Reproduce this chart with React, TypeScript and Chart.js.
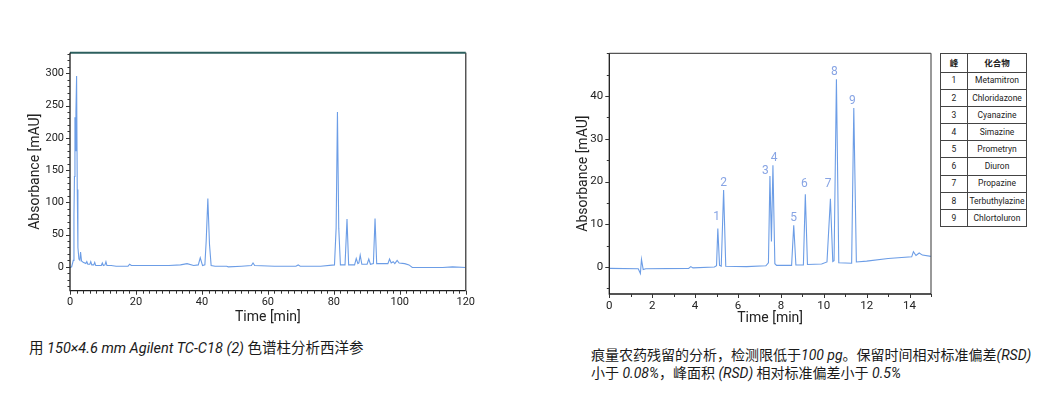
import React, { useEffect, useRef } from "react";
import { Chart, registerables } from "chart.js";

Chart.register(...registerables);

// ---------- Left chromatogram (西洋参) ----------
const leftTime = [
  0, 0.5, 1.0, 1.2, 1.35, 1.5, 1.65, 1.8, 2.0, 2.2,
  2.4, 2.7, 3.0, 3.2, 3.5, 4.0, 4.8, 5.1, 5.4, 6.0,
  6.3, 6.6, 7.2, 7.5, 7.8, 8.6, 9.5, 9.8, 10.1, 10.6,
  10.9, 11.2, 12.5, 14.0, 17.6, 18.1, 18.6, 24, 30, 33.5,
  35.5, 37.5, 38.9, 39.5, 40.2, 40.9, 41.3, 41.8, 42.3, 42.8,
  44, 47.5, 48, 52, 55.0, 55.5, 56.0, 62, 68.5, 69.2,
  69.8, 76, 80.2, 80.7, 81.1, 81.5, 82.0, 83.4, 84.0, 84.5,
  86.3, 86.8, 87.3, 87.6, 88.0, 88.5, 90.1, 90.6, 91.1, 92.0,
  92.5, 93.0, 96.4, 96.9, 97.4, 98.0, 98.5, 99.2, 99.8, 101.5,
  102.8, 103.8, 108, 113, 116, 120,
];
const leftAbs = [
  -1, 0, 10, 80, 140, 232, 180, 240, 296, 120,
  30, 12, 10, 23, 9, 7, 5, 8, 4, 4,
  8, 3, 3, 7, 2, 2, 2, 6, 2, 3,
  8, 2, 2, 1, 1, 4, 2, 2, 2, 3,
  5, 2, 3, 14, 2, 3, 40, 106, 35, 2,
  1, 1, 0, 1, 2, 6, 2, 1, 1, 3,
  1, 1, 3, 60, 240, 60, 3, 3, 74, 3,
  3, 13, 5, 6, 18, 4, 4, 12, 4, 5,
  75, 5, 5, 12, 6, 8, 5, 10, 6, 5,
  3, -1, -1, -1, 0, -1,
];
const leftXLabels = [0, 20, 40, 60, 80, 100, 120];
const leftYLabels = [0, 50, 100, 150, 200, 250, 300];

// ---------- Right chromatogram (pesticides) ----------
const rightTime = [
  0, 1.35, 1.45, 1.5, 1.58, 1.7, 3.7, 3.8, 3.9, 4.9,
  5.0, 5.06, 5.14, 5.22, 5.33, 5.43, 6.4, 7.3, 7.42, 7.49,
  7.56, 7.63, 7.72, 7.8, 8.5, 8.6, 8.7, 9.05, 9.14, 9.24,
  9.9, 10.15, 10.31, 10.42, 10.48, 10.59, 10.7, 11.3, 11.4, 11.52,
  12, 13, 14.1, 14.18, 14.3, 14.45, 14.6, 15,
];
const rightAbs = [
  -0.3, -0.4, -1.5, 1.8, -0.6, -0.4, -0.3, 0.1, -0.2, 0.0,
  0.3, 9.0, 0.4, 0.2, 18.0, 0.2, 0.1, 0.3, 1.0, 21.3,
  6, 23.8, 0.8, 0.4, 0.4, 9.8, 0.5, 0.5, 17.0, 0.6,
  0.7, 1.2, 16.0, 1.3, 1.5, 43.9, 1.0, 0.9, 37.2, 1.2,
  1.4, 2.0, 2.4, 3.6, 2.7, 3.3, 2.8, 2.5,
];
const rightXLabels = [0, 2, 4, 6, 8, 10, 12, 14];
const rightYLabels = [0, 10, 20, 30, 40];

const peakIds = ["1", "2", "3", "4", "5", "6", "7", "8", "9"];
const peakLabelTime = [5.0, 5.33, 7.28, 7.68, 8.6, 9.1, 10.2, 10.5, 11.33];
const peakLabelAbs = [11.7, 19.6, 22.5, 25.4, 11.5, 19.5, 19.5, 45.6, 38.8];

// ---------- Table ----------
const tableHeader = ["峰", "化合物"];
const compoundNos = ["1", "2", "3", "4", "5", "6", "7", "8", "9"];
const compoundNames = [
  "Metamitron",
  "Chloridazone",
  "Cyanazine",
  "Simazine",
  "Prometryn",
  "Diuron",
  "Propazine",
  "Terbuthylazine",
  "Chlortoluron",
];

const NARROW = "Roboto, 'Liberation Sans', sans-serif";
const LINE_COLOR = "#6c9de6";

const near = (arr: number[], v: number) => arr.some((a) => Math.abs(a - v) < 1e-6);

const framePlugin = {
  id: "frame",
  afterDraw(chart: any, _args: any, opts: any) {
    const { ctx, chartArea: a } = chart;
    const xs = chart.scales.x;
    const ys = chart.scales.y;
    ctx.save();
    ctx.strokeStyle = opts.rightColor;
    ctx.lineWidth = opts.rightWidth;
    ctx.beginPath();
    ctx.moveTo(a.right, a.top);
    ctx.lineTo(a.right, a.bottom);
    ctx.stroke();
    ctx.strokeStyle = opts.topColor;
    ctx.lineWidth = opts.topWidth;
    ctx.beginPath();
    ctx.moveTo(a.left, a.top);
    ctx.lineTo(a.right, a.top);
    ctx.stroke();
    ctx.strokeStyle = "#1c1c1c";
    ctx.lineWidth = 1.3;
    ctx.beginPath();
    ctx.moveTo(a.left, a.top);
    ctx.lineTo(a.left, a.bottom);
    ctx.lineTo(a.right, a.bottom);
    ctx.stroke();
    ctx.lineWidth = 1;
    ctx.strokeStyle = "#333";
    ctx.beginPath();
    xs.ticks.forEach((t: any) => {
      const px = Math.round(xs.getPixelForValue(t.value)) + 0.5;
      const len = near(opts.xLabels, t.value) ? 4 : 3;
      ctx.moveTo(px, a.bottom);
      ctx.lineTo(px, a.bottom + len);
    });
    ys.ticks.forEach((t: any) => {
      const py = Math.round(ys.getPixelForValue(t.value)) + 0.5;
      const len = near(opts.yLabels, t.value) ? 4 : 2.5;
      ctx.moveTo(a.left, py);
      ctx.lineTo(a.left - len, py);
    });
    ctx.stroke();
    ctx.restore();
  },
};

const peakLabelPlugin = {
  id: "peakLabels",
  afterDatasetsDraw(chart: any, _args: any, opts: any) {
    if (!opts || !opts.ids) return;
    const { ctx } = chart;
    const xs = chart.scales.x;
    const ys = chart.scales.y;
    ctx.save();
    ctx.fillStyle = opts.color;
    ctx.font = `12px ${NARROW}`;
    ctx.textAlign = "center";
    ctx.textBaseline = "middle";
    opts.ids.forEach((id: string, i: number) => {
      ctx.fillText(id, xs.getPixelForValue(opts.times[i]), ys.getPixelForValue(opts.values[i]));
    });
    ctx.restore();
  },
};

type Cfg = {
  width: number;
  height: number;
  times: number[];
  values: number[];
  xMin: number;
  xMax: number;
  xStep: number;
  xLabels: number[];
  yMin: number;
  yMax: number;
  yStep: number;
  yLabels: number[];
  yAxisWidth: number;
  xAxisHeight: number;
  padding: { top: number; right: number; left: number; bottom: number };
  yTitlePad: number;
  xTitlePad: number;
  tickSize: number;
  titleSize: number;
  topColor: string;
  topWidth: number;
  rightColor: string;
  rightWidth: number;
  peaks?: { ids: string[]; times: number[]; values: number[]; color: string };
};

function Chromatogram({ cfg, style }: { cfg: Cfg; style: React.CSSProperties }) {
  const ref = useRef<HTMLCanvasElement | null>(null);
  useEffect(() => {
    if (!ref.current) return;
    const chart = new Chart(ref.current, {
      type: "line",
      data: {
        datasets: [
          {
            data: cfg.times.map((t, i) => ({ x: t, y: cfg.values[i] })),
            borderColor: LINE_COLOR,
            borderWidth: 1.1,
            pointRadius: 0,
            tension: 0,
            fill: false,
          },
        ],
      },
      options: {
        responsive: false,
        animation: false,
        events: [],
        layout: { padding: cfg.padding },
        plugins: {
          legend: { display: false },
          tooltip: { enabled: false },
          frame: {
            xLabels: cfg.xLabels,
            yLabels: cfg.yLabels,
            topColor: cfg.topColor,
            topWidth: cfg.topWidth,
            rightColor: cfg.rightColor,
            rightWidth: cfg.rightWidth,
          },
          peakLabels: cfg.peaks || {},
        } as any,
        scales: {
          x: {
            type: "linear",
            min: cfg.xMin,
            max: cfg.xMax,
            border: { display: false },
            grid: { display: false, drawTicks: false },
            ticks: {
              stepSize: cfg.xStep,
              includeBounds: false,
              autoSkip: false,
              maxRotation: 0,
              padding: 5,
              color: "#222",
              font: { family: NARROW, size: cfg.tickSize },
              callback: (v: any) => (near(cfg.xLabels, Number(v)) ? String(Math.round(Number(v))) : ""),
            },
            title: {
              display: true,
              text: "Time [min]",
              color: "#222",
              font: { family: NARROW, size: cfg.titleSize },
              padding: { top: 0, bottom: cfg.xTitlePad },
            },
            afterFit: (s: any) => {
              s.height = cfg.xAxisHeight;
            },
          },
          y: {
            type: "linear",
            min: cfg.yMin,
            max: cfg.yMax,
            border: { display: false },
            grid: { display: false, drawTicks: false },
            ticks: {
              stepSize: cfg.yStep,
              includeBounds: false,
              autoSkip: false,
              padding: 6,
              color: "#222",
              font: { family: NARROW, size: cfg.tickSize },
              callback: (v: any) => (near(cfg.yLabels, Number(v)) ? String(Math.round(Number(v))) : ""),
            },
            title: {
              display: true,
              text: "Absorbance [mAU]",
              color: "#222",
              font: { family: NARROW, size: cfg.titleSize },
              padding: { top: cfg.yTitlePad, bottom: 0 },
            },
            afterFit: (s: any) => {
              s.width = cfg.yAxisWidth;
            },
          },
        },
      } as any,
      plugins: [framePlugin, peakLabelPlugin],
    });
    return () => chart.destroy();
  }, []);
  return (
    <canvas
      ref={ref}
      width={cfg.width}
      height={cfg.height}
      style={{ position: "absolute", width: cfg.width, height: cfg.height, ...style }}
    />
  );
}

const leftCfg: Cfg = {
  width: 480,
  height: 300,
  times: leftTime,
  values: leftAbs,
  xMin: 0,
  xMax: 120,
  xStep: 2,
  xLabels: leftXLabels,
  yMin: -37,
  yMax: 332,
  yStep: 10,
  yLabels: leftYLabels,
  yAxisWidth: 70,
  xAxisHeight: 49.3,
  padding: { top: 12.7, right: 14, left: 0, bottom: 0 },
  yTitlePad: 27.5,
  xTitlePad: 14,
  tickSize: 11,
  titleSize: 14,
  topColor: "#2c5f5e",
  topWidth: 2,
  rightColor: "#555",
  rightWidth: 1.5,
};

const rightCfg: Cfg = {
  width: 380,
  height: 300,
  times: rightTime,
  values: rightAbs,
  xMin: 0,
  xMax: 15,
  xStep: 1,
  xLabels: rightXLabels,
  yMin: -6.3,
  yMax: 50,
  yStep: 5,
  yLabels: rightYLabels,
  yAxisWidth: 49.3,
  xAxisHeight: 46,
  padding: { top: 13.3, right: 9, left: 0, bottom: 0 },
  yTitlePad: 15.5,
  xTitlePad: 13,
  tickSize: 11.5,
  titleSize: 14,
  topColor: "#555",
  topWidth: 1.2,
  rightColor: "#555",
  rightWidth: 1.2,
  peaks: { ids: peakIds, times: peakLabelTime, values: peakLabelAbs, color: "#87a4e4" },
};

const captionFont = "Roboto, 'Noto Sans CJK SC', sans-serif";

function Latin({ children }: { children: React.ReactNode }) {
  return <span style={{ fontStyle: "italic" }}>{children}</span>;
}

export default function App() {
  const cellBase: React.CSSProperties = {
    border: "1px solid #444",
    padding: 0,
    textAlign: "center",
    verticalAlign: "middle",
    fontFamily: "Roboto, 'Noto Sans CJK SC', sans-serif",
    fontSize: 8.5,
    color: "#222",
    lineHeight: 1,
    whiteSpace: "nowrap",
    overflow: "hidden",
  };
  return (
    <div
      style={{
        position: "absolute",
        left: 0,
        top: 0,
        width: 1052,
        height: 393,
        background: "#fff",
        overflow: "hidden",
      }}
    >
      <Chromatogram cfg={leftCfg} style={{ left: 0, top: 40 }} />
      <Chromatogram cfg={rightCfg} style={{ left: 560, top: 40 }} />

      <table
        style={{
          position: "absolute",
          left: 940,
          top: 53,
          width: 86,
          borderCollapse: "collapse",
          tableLayout: "fixed",
        }}
      >
        <colgroup>
          <col style={{ width: 27 }} />
          <col style={{ width: 59 }} />
        </colgroup>
        <tbody>
          <tr style={{ height: 18.5 }}>
            <td style={{ ...cellBase, fontWeight: "bold" }}>{tableHeader[0]}</td>
            <td style={{ ...cellBase, fontWeight: "bold" }}>{tableHeader[1]}</td>
          </tr>
          {compoundNos.map((n, i) => (
            <tr key={n} style={{ height: 17.2 }}>
              <td style={cellBase}>{n}</td>
              <td style={cellBase}>{compoundNames[i]}</td>
            </tr>
          ))}
        </tbody>
      </table>

      <div
        style={{
          position: "absolute",
          left: 29,
          top: 340,
          fontFamily: captionFont,
          fontSize: 14.5,
          color: "#1a1a1a",
          whiteSpace: "nowrap",
          lineHeight: "18px",
        }}
      >
        用 <Latin>150×4.6 mm Agilent TC-C18 (2)</Latin> 色谱柱分析西洋参
      </div>

      <div
        style={{
          position: "absolute",
          left: 591,
          top: 346,
          fontFamily: captionFont,
          fontSize: 14,
          color: "#1a1a1a",
          whiteSpace: "nowrap",
          lineHeight: "18px",
        }}
      >
        <div>
          痕量农药残留的分析，检测限低于<Latin>100 pg</Latin>。保留时间相对标准偏差<Latin>(RSD)</Latin>
        </div>
        <div>
          小于 <Latin>0.08%</Latin>，峰面积 <Latin>(RSD)</Latin> 相对标准偏差小于 <Latin>0.5%</Latin>
        </div>
      </div>
    </div>
  );
}
